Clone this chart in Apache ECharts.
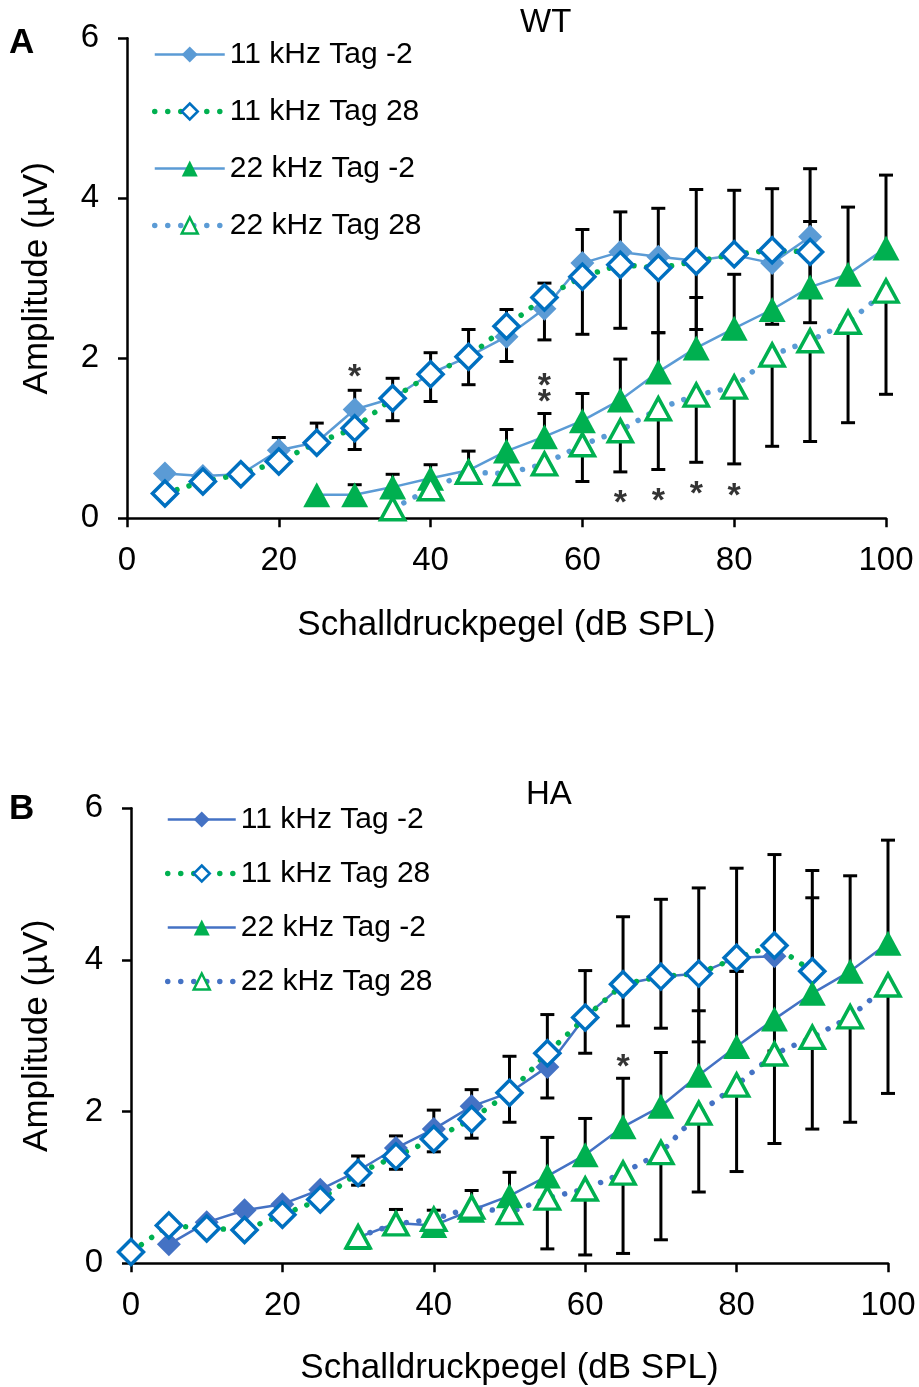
<!DOCTYPE html>
<html>
<head>
<meta charset="utf-8">
<script src="https://cdn.jsdelivr.net/npm/echarts/dist/echarts.min.js"></script>
<style>
  html, body { margin: 0; padding: 0; background: #fff; }
  #chart { width: 919px; height: 1387px; }
</style>
</head>
<body>
<div id="chart"></div>
<script>
// Sound pressure levels (dB SPL), one slot per 5 dB step
const levels = [0, 5, 10, 15, 20, 25, 30, 35, 40, 45, 50, 55, 60, 65, 70, 75, 80, 85, 90, 95, 100];
const xTicks = [0, 20, 40, 60, 80, 100];
const yTicks = [0, 2, 4, 6];

// ---- WT: mean amplitudes (µV) ----
const wt11Pre  = [null, 0.56, 0.53, 0.55, 0.85, 0.95, 1.36, 1.50, 1.81, 2.02, 2.27, 2.62, 3.19, 3.33, 3.27, 3.22, 3.29, 3.19, 3.52, null, null];
const wt11Post = [null, 0.31, 0.46, 0.55, 0.71, 0.945, 1.125, 1.50, 1.80, 2.02, 2.40, 2.76, 3.02, 3.17, 3.13, 3.21, 3.30, 3.35, 3.33, null, null];
const wt22Pre  = [null, null, null, null, null, 0.295, 0.295, 0.39, 0.50, 0.60, 0.84, 1.02, 1.22, 1.48, 1.83, 2.13, 2.375, 2.61, 2.89, 3.05, 3.38];
const wt22Post = [null, null, null, null, null, null, null, 0.12, 0.37, 0.575, 0.56, 0.68, 0.92, 1.095, 1.37, 1.54, 1.64, 2.04, 2.22, 2.45, 2.84];
// WT error bar ends (Tag -2: upper, Tag 28: lower)
const wt11PreHi  = [null, null, null, null, 1.01, 1.19, 1.60, 1.75, 2.07, 2.36, 2.61, 2.94, 3.61, 3.83, 3.875, 4.11, 4.10, 4.12, 4.37, null, null];
const wt11PostLo = [null, null, null, null, null, null, 0.86, 1.22, 1.46, 1.67, 1.96, 2.23, 2.30, 2.375, 2.32, 2.36, null, 2.425, 2.445, null, null];
const wt22PreHi  = [null, null, null, null, null, null, 0.42, 0.55, 0.67, 0.84, 1.11, 1.31, 1.56, 1.99, 2.32, 2.76, 3.05, null, 3.71, 3.89, 4.29];
const wt22PostLo = [null, null, null, null, null, null, null, null, null, null, null, null, 0.46, 0.58, 0.61, 0.70, 0.68, 0.90, 0.96, 1.195, 1.55];
// WT significance marks [level, amplitude]
const wtStars = [[30, 1.86], [55, 1.74], [55, 1.54], [65, 0.28], [70, 0.31], [75, 0.40], [80, 0.375]];

// ---- HA: mean amplitudes (µV) ----
const ha11Pre  = [null, 0.25, 0.54, 0.70, 0.78, 0.97, 1.22, 1.52, 1.77, 2.07, 2.25, 2.59, 3.25, 3.68, 3.78, 3.82, 4.03, 4.05, null, null, null];
const ha11Post = [0.15, 0.50, 0.46, 0.44, 0.64, 0.84, 1.19, 1.41, 1.64, 1.90, 2.25, 2.77, 3.24, 3.68, 3.78, 3.82, 4.03, 4.19, 3.85, null, null];
const ha22Pre  = [null, null, null, null, null, null, 0.34, 0.53, 0.50, 0.70, 0.89, 1.15, 1.43, 1.80, 2.07, 2.48, 2.86, 3.22, 3.56, 3.85, 4.22];
const ha22Post = [null, null, null, null, null, null, 0.35, 0.52, 0.58, 0.74, 0.67, 0.86, 0.98, 1.19, 1.46, 1.98, 2.35, 2.76, 2.98, 3.25, 3.67];
// HA error bar ends
const ha11PreHi  = [null, null, null, null, null, null, 1.415, 1.68, 2.02, 2.29, 2.73, 3.28, 3.86, 4.57, 4.80, 4.95, 5.21, 5.39, null, null, null];
const ha11PostLo = [null, null, null, null, null, null, 1.03, 1.24, 1.47, 1.65, 1.86, 2.18, 2.77, 3.13, 3.10, 2.92, 3.85, 2.80, null, null, null];
const ha11PostHi = [null, null, null, null, null, null, null, null, null, null, null, null, null, null, null, null, null, null, 5.18, null, null];
const ha22PreHi  = [null, null, null, null, null, null, null, 0.71, 0.70, 0.96, 1.20, 1.66, 1.91, 2.44, 2.78, 3.33, 3.85, null, 4.82, 5.11, 5.58];
const ha22PostLo = [null, null, null, null, null, null, null, null, null, null, null, 0.19, 0.11, 0.13, 0.31, 0.94, 1.21, 1.58, 1.77, 1.86, 2.24];
const haStars = [[65, 2.68]];

const names = ['11 kHz Tag -2', '11 kHz Tag 28', '22 kHz Tag -2', '22 kHz Tag 28'];

const FONT = '"Liberation Sans", Arial, Helvetica, sans-serif';
const GREEN = '#00B050';
const DEEP_BLUE = '#0070C0';
const BLUE_WT = '#5B9BD5';
const BLUE_HA = '#4472C4';

function points(ys) {
  return levels.map((x, i) => ys[i] == null ? null : [x, ys[i]]).filter(Boolean);
}
function barPoints(ys, ends) {
  return levels.map((x, i) => (ys[i] == null || ends[i] == null) ? null : [x, ys[i], ends[i]]).filter(Boolean);
}

const dotted = (color) => ({ color: color, width: 5.5, type: [0.01, 12.6], cap: 'round' });
const solid = (color) => ({ color: color, width: 2.5 });

function lineSeries(name, gi, ys, symbol, size, itemStyle, lineStyle) {
  return {
    type: 'line', name: name, xAxisIndex: gi, yAxisIndex: gi,
    data: points(ys), symbol: symbol, symbolSize: size,
    itemStyle: itemStyle, lineStyle: lineStyle,
    z: 3, animation: false, silent: true, emphasis: { disabled: true }
  };
}

function errorSeries(gi, ys, ends) {
  return {
    type: 'custom', xAxisIndex: gi, yAxisIndex: gi, z: 2, silent: true, animation: false,
    data: barPoints(ys, ends),
    encode: { x: 0, y: [1, 2] },
    renderItem: function (params, api) {
      const p0 = api.coord([api.value(0), api.value(1)]);
      const p1 = api.coord([api.value(0), api.value(2)]);
      const hw = 7;
      const st = { stroke: '#000', lineWidth: 3 };
      return {
        type: 'group',
        children: [
          { type: 'line', shape: { x1: p0[0], y1: p0[1], x2: p1[0], y2: p1[1] }, style: st },
          { type: 'line', shape: { x1: p1[0] - hw, y1: p1[1], x2: p1[0] + hw, y2: p1[1] }, style: st }
        ]
      };
    }
  };
}

function starSeries(gi, data) {
  return {
    type: 'scatter', xAxisIndex: gi, yAxisIndex: gi, data: data, z: 4,
    symbol: 'circle', symbolSize: 1, itemStyle: { color: 'rgba(0,0,0,0)' }, silent: true, animation: false,
    label: {
      show: true, formatter: '*', position: 'inside', offset: [0, 8],
      color: '#000', fontSize: 34, fontWeight: 'bold', fontFamily: FONT, textBorderWidth: 0
    }
  };
}

function panelSeries(gi, d, lineBlue, filledBlue) {
  const filledDiamond = { color: filledBlue };
  const openDiamond = { color: '#fff', borderColor: DEEP_BLUE, borderWidth: 3.5 };
  const filledTri = { color: GREEN };
  const openTri = { color: '#fff', borderColor: GREEN, borderWidth: 3.5 };
  const list = [];
  d.errors.forEach(e => list.push(errorSeries(gi, e[0], e[1])));
  list.push(lineSeries(names[0], gi, d.pre11, 'diamond', 24, filledDiamond, solid(lineBlue)));
  list.push(lineSeries(names[1], gi, d.post11, 'diamond', 25, openDiamond, dotted(GREEN)));
  list.push(lineSeries(names[2], gi, d.pre22, 'triangle', [27, 25], filledTri, solid(lineBlue)));
  list.push(lineSeries(names[3], gi, d.post22, 'triangle', [24, 22], openTri, dotted(lineBlue)));
  list.push(starSeries(gi, d.stars));
  return list;
}

const series = [].concat(
  panelSeries(0, {
    pre11: wt11Pre, post11: wt11Post, pre22: wt22Pre, post22: wt22Post, stars: wtStars,
    errors: [[wt11Pre, wt11PreHi], [wt11Post, wt11PostLo], [wt22Pre, wt22PreHi], [wt22Post, wt22PostLo]]
  }, BLUE_WT, BLUE_WT),
  panelSeries(1, {
    pre11: ha11Pre, post11: ha11Post, pre22: ha22Pre, post22: ha22Post, stars: haStars,
    errors: [[ha11Pre, ha11PreHi], [ha11Post, ha11PostLo], [ha11Post, ha11PostHi], [ha22Pre, ha22PreHi], [ha22Post, ha22PostLo]]
  }, BLUE_HA, BLUE_HA)
);

function legendItems(lineBlue, filledBlue) {
  return [
    { name: names[0], lineStyle: { color: lineBlue, width: 2.5, type: 'solid' }, itemStyle: { color: filledBlue, borderWidth: 0 } },
    { name: names[1], lineStyle: { color: GREEN, width: 5.5, type: [0.01, 13], cap: 'round' }, itemStyle: { color: '#fff', borderColor: DEEP_BLUE, borderWidth: 2.5 } },
    { name: names[2], lineStyle: { color: lineBlue, width: 2.5, type: 'solid' }, itemStyle: { color: GREEN, borderWidth: 0 } },
    { name: names[3], lineStyle: { color: lineBlue, width: 5.5, type: [0.01, 13], cap: 'round' }, itemStyle: { color: '#fff', borderColor: GREEN, borderWidth: 2.5 } }
  ];
}

function xAxis(gi) {
  return {
    type: 'value', gridIndex: gi, min: xTicks[0], max: xTicks[xTicks.length - 1], interval: xTicks[1] - xTicks[0],
    name: 'Schalldruckpegel (dB SPL)', nameLocation: 'middle', nameGap: gi === 0 ? 90 : 88,
    nameTextStyle: { fontSize: 35, color: '#000', fontFamily: FONT },
    axisLine: { show: true, onZero: false, lineStyle: { color: '#000', width: 2.5 } },
    axisTick: { show: true, inside: false, length: 9, lineStyle: { color: '#000', width: 2.5 } },
    axisLabel: { fontSize: 33, color: '#000', margin: 26, fontFamily: FONT },
    splitLine: { show: false }
  };
}
function yAxis(gi) {
  return {
    type: 'value', gridIndex: gi, min: yTicks[0], max: yTicks[yTicks.length - 1], interval: yTicks[1] - yTicks[0],
    name: 'Amplitude (µV)', nameLocation: 'middle', nameGap: gi === 0 ? 72 : 76,
    nameTextStyle: { fontSize: 35, color: '#000', fontFamily: FONT },
    axisLine: { show: true, onZero: false, lineStyle: { color: '#000', width: 2.5 } },
    axisTick: { show: true, inside: false, length: 9, lineStyle: { color: '#000', width: 2.5 } },
    axisLabel: { fontSize: 33, color: '#000', margin: 28, fontFamily: FONT },
    splitLine: { show: false }
  };
}

const chart = echarts.init(document.getElementById('chart'), null, { renderer: 'canvas' });
chart.setOption({
  animation: false,
  backgroundColor: '#fff',
  grid: [
    { left: 127, top: 38.3, width: 759, height: 480, containLabel: false, outerBoundsMode: 'none' },
    { left: 131, top: 808.3, width: 757, height: 455, containLabel: false, outerBoundsMode: 'none' }
  ],
  xAxis: [xAxis(0), xAxis(1)],
  yAxis: [yAxis(0), yAxis(1)],
  legend: [
    { orient: 'vertical', left: 152, top: 39.5, padding: 0, itemWidth: 70, itemHeight: 20, itemGap: 27, selectedMode: false,
      textStyle: { fontSize: 30, color: '#000', fontFamily: FONT }, data: legendItems(BLUE_WT, BLUE_WT) },
    { orient: 'vertical', left: 165, top: 804.5, padding: 0, itemWidth: 68, itemHeight: 20, itemGap: 24, selectedMode: false,
      textStyle: { fontSize: 30, color: '#000', fontFamily: FONT }, data: legendItems(BLUE_HA, BLUE_HA) }
  ],
  graphic: [
    { type: 'text', left: 9, top: 26, style: { text: 'A', font: 'bold 35px ' + FONT, fill: '#000' } },
    { type: 'text', left: 9, top: 792, style: { text: 'B', font: 'bold 35px ' + FONT, fill: '#000' } },
    { type: 'text', left: 520, top: 6, style: { text: 'WT', font: '33px ' + FONT, fill: '#000' } },
    { type: 'text', left: 526, top: 778, style: { text: 'HA', font: '33px ' + FONT, fill: '#000' } }
  ],
  series: series
});
</script>
</body>
</html>
